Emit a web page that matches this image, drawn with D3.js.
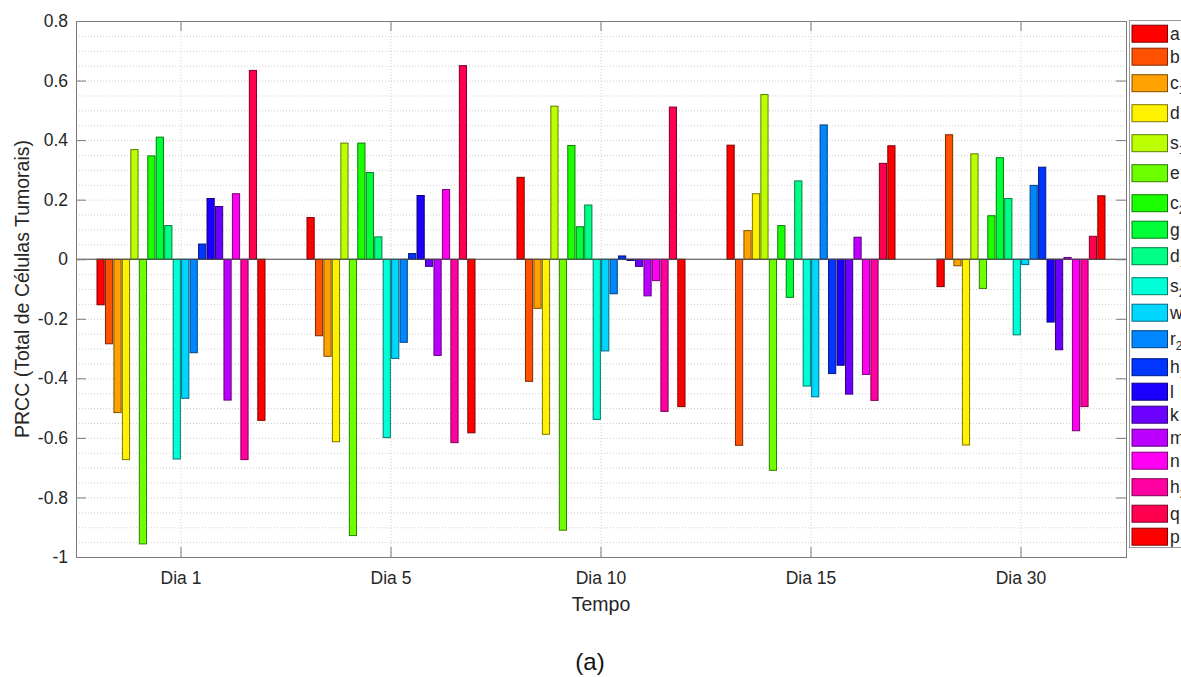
<!DOCTYPE html>
<html>
<head>
<meta charset="utf-8">
<script src="https://cdn.jsdelivr.net/npm/d3@7"></script>
<style>
  body { margin: 0; background: #fff; }
  svg { display: block; font-family: "Liberation Sans", Arial, sans-serif; }
</style>
</head>
<body>
<svg id="chart" width="1181" height="677"></svg>
<script>
// categories and parameter names (subscript after "_")
const days = ['Dia 1', 'Dia 5', 'Dia 10', 'Dia 15', 'Dia 30'];
const paramLabels = ['a', 'b', 'c_1', 'd', 's_1', 'e', 'c_2', 'g', 'd_1', 's_2',
                     'w', 'r_2', 'h_1', 'l', 'k', 'm', 'n', 'h_2', 'q', 'p'];

// PRCC values per day, one per parameter
const prccDia1  = [-0.153, -0.284, -0.515, -0.673, 0.368, -0.956, 0.347, 0.410, 0.113, -0.671,
                   -0.467, -0.314, 0.051, 0.204, 0.177, -0.473, 0.220, -0.673, 0.634, -0.541];
const prccDia5  = [0.140, -0.257, -0.326, -0.613, 0.390, -0.928, 0.390, 0.291, 0.075, -0.599,
                   -0.333, -0.279, 0.019, 0.214, -0.024, -0.323, 0.234, -0.616, 0.650, -0.583];
const prccDia10 = [0.275, -0.410, -0.165, -0.588, 0.514, -0.910, 0.382, 0.109, 0.182, -0.538,
                   -0.308, -0.116, 0.011, -0.004, -0.024, -0.123, -0.072, -0.511, 0.511, -0.495];
const prccDia15 = [0.383, -0.625, 0.096, 0.220, 0.553, -0.709, 0.113, -0.128, 0.263, -0.426,
                   -0.462, 0.451, -0.384, -0.356, -0.453, 0.074, -0.387, -0.474, 0.322, 0.381];
const prccDia30 = [-0.092, 0.418, -0.022, -0.624, 0.354, -0.098, 0.146, 0.341, 0.204, -0.254,
                   -0.018, 0.248, 0.309, -0.211, -0.304, 0.006, -0.576, -0.495, 0.077, 0.213];

const yTicks = [-1, -0.8, -0.6, -0.4, -0.2, 0, 0.2, 0.4, 0.6, 0.8];

const prcc = [prccDia1, prccDia5, prccDia10, prccDia15, prccDia30];

const svg = d3.select('#chart');
const plotL = 76, plotR = 1126, plotT = 21, plotB = 557;
const axisGray = '#7a7a7a';
const textGray = '#262626';

// hsv colormap like matlab, first and last both red
const color = i => d3.hsl(i * 360 / (paramLabels.length - 1), 1, 0.5).toString();

const x = d3.scaleBand().domain(days).range([plotL, plotR]);
const groupW = x.bandwidth() * 0.8;
const xInner = d3.scaleBand()
  .domain(d3.range(paramLabels.length))
  .range([0, groupW])
  .paddingInner(0.15);
const y = d3.scaleLinear().domain([-1, 0.8]).range([plotB, plotT]);

// dotted grid (minor every 0.05, vertical at each day)
const grid = svg.append('g').attr('stroke', '#cfcfcf').attr('stroke-dasharray', '1,2');
grid.selectAll('line.h')
  .data(d3.range(-19, 16).map(k => k * 0.05))
  .join('line')
  .attr('x1', plotL).attr('x2', plotR)
  .attr('y1', d => y(d) + 0.5).attr('y2', d => y(d) + 0.5);
grid.selectAll('line.v')
  .data(days)
  .join('line')
  .attr('x1', d => x(d) + x.bandwidth() / 2).attr('x2', d => x(d) + x.bandwidth() / 2)
  .attr('y1', plotT).attr('y2', plotB);

// bars
const groups = svg.append('g').selectAll('g')
  .data(days)
  .join('g')
  .attr('transform', d => `translate(${x(d) + (x.bandwidth() - groupW) / 2},0)`);

groups.selectAll('rect')
  .data((d, i) => prcc[i].map((v, j) => ({ v, j })))
  .join('rect')
  .attr('x', d => xInner(d.j))
  .attr('width', xInner.bandwidth())
  .attr('y', d => y(Math.max(0, d.v)))
  .attr('height', d => Math.abs(y(d.v) - y(0)))
  .attr('fill', d => color(d.j))
  .attr('stroke', d => d3.color(color(d.j)).darker(2))
  .attr('stroke-width', 1);

// zero baseline
svg.append('line')
  .attr('x1', plotL).attr('x2', plotR)
  .attr('y1', y(0)).attr('y2', y(0))
  .attr('stroke', '#444').attr('stroke-width', 1);

// axes with inward ticks
const fmt = v => String(+v.toFixed(1));
const styleAxis = g => {
  g.select('.domain').remove();
  g.selectAll('line').attr('stroke', axisGray);
  g.selectAll('text').attr('fill', textGray).style('font-size', '17.5px')
    .style('font-family', '"Liberation Sans", Arial, sans-serif');
};
svg.append('g').attr('transform', `translate(${plotL},0)`)
  .call(d3.axisLeft(y).tickValues(yTicks).tickFormat(fmt).tickSize(-10).tickPadding(8))
  .call(styleAxis);
svg.append('g').attr('transform', `translate(${plotR},0)`)
  .call(d3.axisRight(y).tickValues(yTicks).tickFormat('').tickSize(-10))
  .call(styleAxis);
svg.append('g').attr('transform', `translate(0,${plotB})`)
  .call(d3.axisBottom(x).tickSize(-10).tickPadding(15))
  .call(styleAxis);
svg.append('g').attr('transform', `translate(0,${plotT})`)
  .call(d3.axisTop(x).tickFormat('').tickSize(-10))
  .call(styleAxis);

// frame
svg.append('rect')
  .attr('x', plotL + 0.5).attr('y', plotT + 0.5)
  .attr('width', plotR - plotL).attr('height', plotB - plotT)
  .attr('fill', 'none').attr('stroke', axisGray).attr('stroke-width', 1);

// axis titles
svg.append('text')
  .attr('x', (plotL + plotR) / 2).attr('y', 611)
  .attr('text-anchor', 'middle').attr('fill', textGray).style('font-size', '19.5px')
  .text('Tempo');
svg.append('text')
  .attr('transform', `translate(29,${(plotT + plotB) / 2}) rotate(-90)`)
  .attr('text-anchor', 'middle').attr('fill', textGray).style('font-size', '19.5px')
  .text('PRCC (Total de Células Tumorais)');
svg.append('text')
  .attr('x', 590).attr('y', 670)
  .attr('text-anchor', 'middle').attr('fill', '#111').style('font-size', '24px')
  .text('(a)');

// legend
const legendRowH = [23, 23, 30, 30, 30, 30, 30, 23, 30, 30,
                    23, 30, 26, 23, 23, 23, 23, 30, 23, 23];
const legend = svg.append('g');
legend.append('rect')
  .attr('x', 1129.5).attr('y', 20.5)
  .attr('width', 80).attr('height', 527)
  .attr('fill', '#fff').attr('stroke', '#9a9a9a');
let cy = 22.2;
paramLabels.forEach((lab, i) => {
  const c = cy + legendRowH[i] / 2;
  cy += legendRowH[i];
  const [base, sub] = lab.split('_');
  legend.append('rect')
    .attr('x', 1132).attr('y', c - 8.5)
    .attr('width', 35.5).attr('height', 17)
    .attr('fill', color(i))
    .attr('stroke', d3.color(color(i)).darker(2)).attr('stroke-width', 1);
  const t = legend.append('text')
    .attr('x', 1170).attr('y', c + 6)
    .attr('fill', textGray).style('font-size', '17.5px')
    .text(base);
  if (sub) {
    t.append('tspan').attr('dy', 5).style('font-size', '12px').text(sub);
  }
});
</script>
</body>
</html>
